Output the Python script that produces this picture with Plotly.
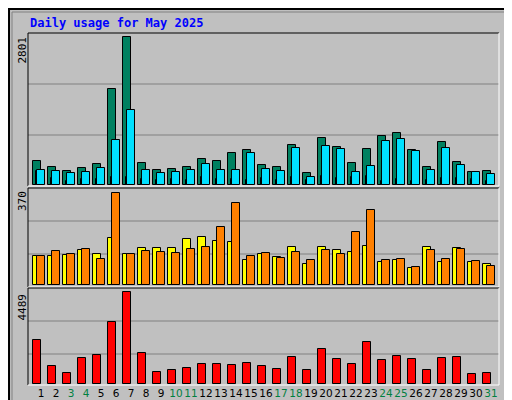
import plotly.graph_objects as go

days = list(range(1, 32))
weekend = [3, 4, 10, 11, 17, 18, 24, 25, 31]

hits = [443, 329, 253, 310, 386, 1811, 2801, 405, 272, 291, 329, 481, 443, 595, 652, 367,
        329, 747, 215, 880, 709, 405, 671, 918, 975, 652, 329, 804, 424, 234, 253]
files = [272, 253, 215, 234, 310, 842, 1412, 272, 215, 234, 272, 386, 272, 272, 595, 291,
         253, 690, 139, 728, 671, 234, 348, 823, 861, 633, 272, 690, 367, 234, 196]
pages = [253, 120, 70, 100, 100, 139, 139, 100, 82, 100, 82, 139, 100, 100, 82, 120,
         82, 139, 82, 158, 120, 139, 158, 63, 100, 63, 82, 120, 120, 100, 63]
visits = [114, 114, 118, 138, 122, 186, 122, 146, 146, 146, 182, 194, 174, 170, 98, 122,
          110, 150, 82, 150, 138, 130, 154, 90, 98, 66, 150, 90, 146, 90, 82]
sites = [114, 134, 122, 142, 102, 370, 122, 134, 130, 126, 142, 150, 234, 330, 114, 126,
         106, 130, 98, 138, 122, 214, 302, 98, 102, 70, 138, 102, 142, 94, 74]
kbytes = [2129, 852, 508, 1245, 1392, 3014, 4489, 1491, 557, 655, 753, 950, 950, 901, 999, 852,
          704, 1294, 655, 1687, 1196, 950, 2031, 1147, 1343, 1196, 655, 1245, 1294, 459, 508]

tick_text = [f"<span style='color:#008040'>{d}</span>" if d in weekend else str(d) for d in days]

fig = go.Figure()
line = dict(color="black", width=1)

def bars(vals, color, off, w, ax):
    fig.add_trace(go.Bar(x=days, y=vals, marker=dict(color=color, line=line),
                         offset=off, width=w, xaxis=ax[0], yaxis=ax[1], hoverinfo="y"))

bars(hits, "#008060", -0.53, 0.53, ("x", "y"))
bars(pages, "#0050FF", -0.35, 0.13, ("x", "y"))
bars(files, "#00E0FF", -0.27, 0.53, ("x", "y"))
bars(visits, "#FFFF00", -0.53, 0.53, ("x2", "y2"))
bars(sites, "#FF8000", -0.27, 0.53, ("x2", "y2"))
bars(kbytes, "#FF0000", -0.53, 0.53, ("x3", "y3"))

xr = [0.13, 31.53]
xd = [20 / 512, 491 / 512]
def py(p):
    return 1 - p / 400

fig.update_layout(
    width=512, height=400, margin=dict(l=0, r=0, t=0, b=0, autoexpand=False),
    paper_bgcolor="#C0C0C0", plot_bgcolor="#C0C0C0",
    barmode="overlay", showlegend=False, bargap=0,
    font=dict(family="DejaVu Sans Mono", size=11, color="black"),
    xaxis=dict(domain=xd, range=xr, showticklabels=False, showgrid=False, zeroline=False, anchor="y"),
    xaxis2=dict(domain=xd, range=xr, showticklabels=False, showgrid=False, zeroline=False, anchor="y2"),
    xaxis3=dict(domain=xd, range=xr, tickvals=days, ticktext=tick_text, ticks="", showgrid=False,
                zeroline=False, anchor="y3", tickangle=0, automargin=False,
                tickfont=dict(family="DejaVu Sans", size=10.5)),
    yaxis=dict(domain=[py(178), py(25)], range=[-25, 2876], visible=False),
    yaxis2=dict(domain=[py(279), py(180)], range=[-9, 389], visible=False),
    yaxis3=dict(domain=[py(377), py(280)], range=[-64, 4708], visible=False),
)

shapes = []
for y in [76, 127, 213, 246, 313, 346]:
    shapes.append(dict(type="line", xref="paper", yref="paper", x0=xd[0], x1=xd[1], y0=py(y), y1=py(y),
                       line=dict(color="#808080", width=1), layer="below"))
for top, bot in [(25, 178), (180, 279), (280, 377)]:
    shapes.append(dict(type="line", xref="paper", yref="paper", x0=xd[0], x1=xd[1], y0=py(top), y1=py(top),
                       line=dict(color="black", width=1)))
    shapes.append(dict(type="line", xref="paper", yref="paper", x0=xd[0], x1=xd[0], y0=py(top), y1=py(bot),
                       line=dict(color="black", width=1)))
    shapes.append(dict(type="line", xref="paper", yref="paper", x0=xd[0], x1=xd[1], y0=py(bot), y1=py(bot),
                       line=dict(color="white", width=1)))
    shapes.append(dict(type="line", xref="paper", yref="paper", x0=xd[1], x1=xd[1], y0=py(top), y1=py(bot),
                       line=dict(color="white", width=1)))
shapes.append(dict(type="rect", xref="paper", yref="paper", x0=0.002, x1=0.998, y0=0.0025, y1=0.9975,
                   line=dict(color="black", width=2)))
shapes.append(dict(type="rect", xref="paper", yref="paper", x0=4 / 512, x1=508 / 512, y0=py(396), y1=py(4),
                   line=dict(color="#808080", width=1)))
fig.update_layout(shapes=shapes)

ann = [
    dict(text="<b>Daily usage for May 2025</b>", x=20 / 512, y=py(15), xanchor="left", yanchor="middle",
         font=dict(color="#0000FF", size=12)),
    dict(text=str(max(hits)), x=14 / 512, y=py(27), textangle=-90, yanchor="top", xanchor="center"),
    dict(text=str(max(sites)), x=14 / 512, y=py(181), textangle=-90, yanchor="top", xanchor="center"),
    dict(text=str(max(kbytes)), x=14 / 512, y=py(284), textangle=-90, yanchor="top", xanchor="center"),
    dict(text="<span style='color:#00E0FF'>Pages</span> / <span style='color:#0080FF'>Files</span> / "
              "<span style='color:#008060'>Hits</span>",
         x=501 / 512, y=py(28), textangle=-90, yanchor="top", xanchor="center"),
    dict(text="<span style='color:#FF8000'>Sites</span> / <span style='color:#FFFF00'>Visits</span>",
         x=501 / 512, y=py(178), textangle=-90, yanchor="top", xanchor="center"),
    dict(text="<span style='color:#FF0000'>kB F</span> / <span style='color:#0080FF'>kB In</span> / "
              "<span style='color:#00C000'>kB Out</span>",
         x=501 / 512, y=py(252), textangle=-90, yanchor="top", xanchor="center"),
]
for a in ann:
    a.update(xref="paper", yref="paper", showarrow=False)
    a.setdefault("font", dict(size=11))
fig.update_layout(annotations=ann)

fig.write_html("out.html", config={"displayModeBar": False})
